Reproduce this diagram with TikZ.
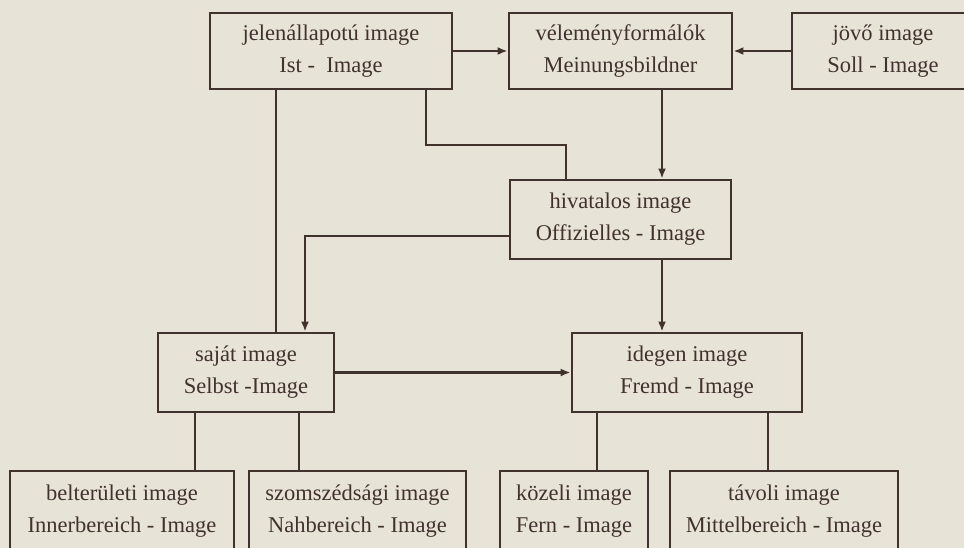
\documentclass[tikz,border=0pt]{standalone}
\usepackage{fontspec}
\setmainfont{Liberation Serif}
\usetikzlibrary{arrows.meta}
\definecolor{paper}{RGB}{231,228,215}
\definecolor{ink}{RGB}{66,50,46}
\tikzset{
  box/.style={draw=ink, line width=2.8pt, rectangle, inner sep=0pt, align=center,
    text=ink, font=\fontsize{22.5}{32}\selectfont},
  link/.style={draw=ink, line width=2.8pt},
  arr/.style={link, -{Latex[length=10pt,width=8pt]}}
}
\begin{document}
\begin{tikzpicture}[x=1pt,y=-1pt]
\useasboundingbox (0,0) rectangle (964,548);
\clip (0,0) rectangle (964,548);
\fill[paper] (0,0) rectangle (964,548);
% top row
\node[box, minimum width=242pt, minimum height=76pt] (b1) at (331,51) {jelenállapotú image\\Ist - \ Image};
\node[box, minimum width=223pt, minimum height=76pt] (b2) at (620.5,51) {véleményformálók\\Meinungsbildner};
\node[box, minimum width=182pt, minimum height=76pt] (b3) at (883,51) {jövő image\\Soll - Image};
% middle
\node[box, minimum width=221pt, minimum height=79pt] (hiv) at (620.5,219.5) {hivatalos image\\Offizielles - Image};
\node[box, minimum width=176pt, minimum height=79pt] (saj) at (246,372.5) {saját image\\Selbst -Image};
\node[box, minimum width=230pt, minimum height=79pt] (ide) at (687,372.5) {idegen image\\Fremd - Image};
% bottom row
\node[box, minimum width=224pt, minimum height=80pt] (bA) at (122,511) {belterületi image\\Innerbereich - Image};
\node[box, minimum width=217pt, minimum height=80pt] (bB) at (357.5,511) {szomszédsági image\\Nahbereich - Image};
\node[box, minimum width=148pt, minimum height=80pt] (bC) at (574,511) {közeli image\\Fern - Image};
\node[box, minimum width=228pt, minimum height=80pt] (bD) at (784,511) {távoli image\\Mittelbereich - Image};
% connectors
\draw[arr] (b1.east) -- (b2.west);
\draw[arr] (b3.west) -- (b2.east);
\draw[arr] (b2.south -| 662,0) -- (hiv.north -| 662,0);
\draw[link] (b1.south -| 426,0) -- (426,145) -- (566,145) -- (hiv.north -| 566,0);
\draw[link] (b1.south -| 276,0) -- (saj.north -| 276,0);
\draw[arr] (hiv.west |- 0,236) -- (305,236) -- (saj.north -| 305,0);
\draw[arr] (hiv.south -| 662,0) -- (ide.north -| 662,0);
\draw[arr] (saj.east) -- (ide.west);
\draw[link] (saj.south -| 195,0) -- (bA.north -| 195,0);
\draw[link] (saj.south -| 299,0) -- (bB.north -| 299,0);
\draw[link] (ide.south -| 597,0) -- (bC.north -| 597,0);
\draw[link] (ide.south -| 768,0) -- (bD.north -| 768,0);
\end{tikzpicture}
\end{document}
